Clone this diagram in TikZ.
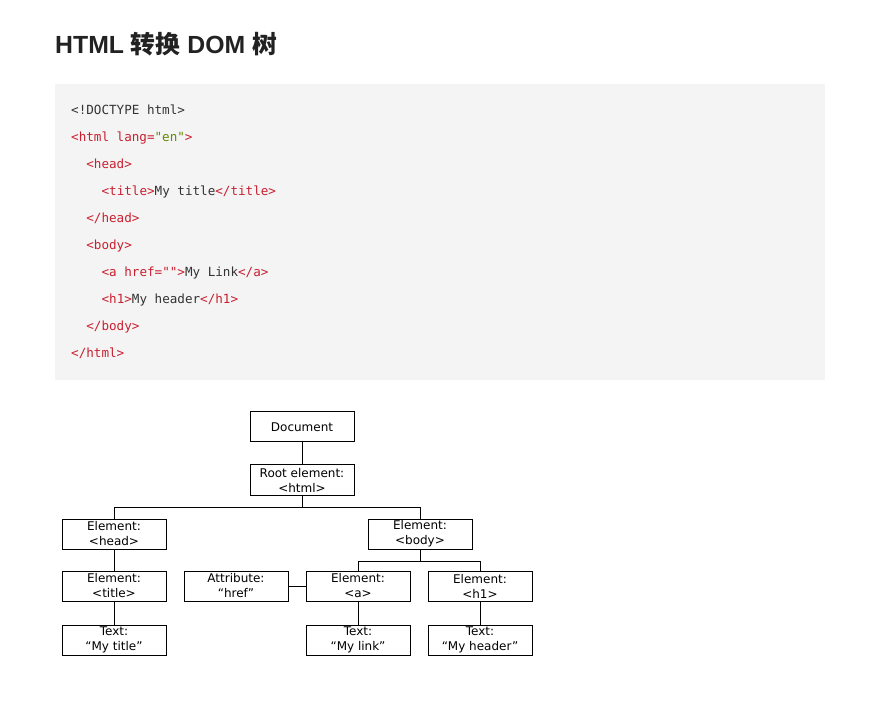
\documentclass[tikz,border=0pt]{standalone}
\usepackage{fontspec}
\usepackage{xcolor}
\setmainfont{Liberation Sans}
\newfontfamily\cjk{Noto Sans CJK SC}
\newfontfamily\codefont{DejaVu Sans Mono}
\newfontfamily\treefont{DejaVu Sans}
\definecolor{tagred}{RGB}{200,32,48}
\definecolor{strgreen}{RGB}{102,136,0}
\definecolor{codegray}{RGB}{244,244,244}
\definecolor{inkgray}{RGB}{51,51,51}
\newcommand\redtag[1]{\textcolor{tagred}{#1}}
\newcommand\greenstr[1]{\textcolor{strgreen}{#1}}
\begin{document}
\begin{tikzpicture}[x=1pt,y=-1pt,
  code/.style={anchor=base west,inner sep=0pt,text=inkgray,font=\codefont\fontsize{12.6}{15}\selectfont},
  box/.style={draw,line width=1pt,minimum width=104pt,minimum height=30pt,inner sep=0pt,align=center,font=\treefont\fontsize{12}{15}\selectfont},
  link/.style={line width=1pt}]
\useasboundingbox (0,0) rectangle (887,703);

% title
\node[anchor=base west,inner sep=0pt,text={rgb,255:red,34;green,34;blue,34}] (head title) at (55,53.5)
  {\fontsize{24.8}{28}\selectfont\bfseries HTML {\cjk\bfseries 转换} DOM {\cjk\bfseries 树}};

% code block
\fill[codegray] (55,84) rectangle (825,380);
\node[code] (l1) at (71,114.5) {<!DOCTYPE html>};
\node[code] (l2) at (71,141.5) {\redtag{<html lang=}\greenstr{"en"}\redtag{>}};
\node[code] (l3) at (86.2,168.5) {\redtag{<head>}};
\node[code] (l4) at (101.4,195.5) {\redtag{<title>}My title\redtag{</title>}};
\node[code] (l5) at (86.2,222.5) {\redtag{</head>}};
\node[code] (l6) at (86.2,249.5) {\redtag{<body>}};
\node[code] (l7) at (101.4,276.5) {\redtag{<a href="">}My Link\redtag{</a>}};
\node[code] (l8) at (101.4,303.5) {\redtag{<h1>}My header\redtag{</h1>}};
\node[code] (l9) at (86.2,330.5) {\redtag{</body>}};
\node[code] (l10) at (71,357.5) {\redtag{</html>}};

% dom tree
\node[box] (doc) at (302,427) {Document};
\node[box] (root) at (302,480) {Root element:\\<html>};
\node[box] (head) at (114,534) {Element:\\<head>};
\node[box] (body) at (420,534) {Element:\\<body>};
\node[box] (title) at (114,586) {Element:\\<title>};
\node[box] (attr) at (236,586) {Attribute:\\“href”};
\node[box] (a) at (358,586) {Element:\\<a>};
\node[box] (h1) at (480,586) {Element:\\<h1>};
\node[box] (ttitle) at (114,640) {Text:\\“My title”};
\node[box] (tlink) at (358,640) {Text:\\“My link”};
\node[box] (theader) at (480,640) {Text:\\“My header”};

\draw[link] (doc) -- (root);
\draw[link] (root.south) -- ++(0,12) -| (head.north);
\draw[link] (root.south) -- ++(0,12) -| (body.north);
\draw[link] (head) -- (title);
\draw[link] (title) -- (ttitle);
\draw[link] (body.south) -- ++(0,12) -| (a.north);
\draw[link] (body.south) -- ++(0,12) -| (h1.north);
\draw[link] (attr) -- (a);
\draw[link] (a) -- (tlink);
\draw[link] (h1) -- (theader);
\end{tikzpicture}
\end{document}
